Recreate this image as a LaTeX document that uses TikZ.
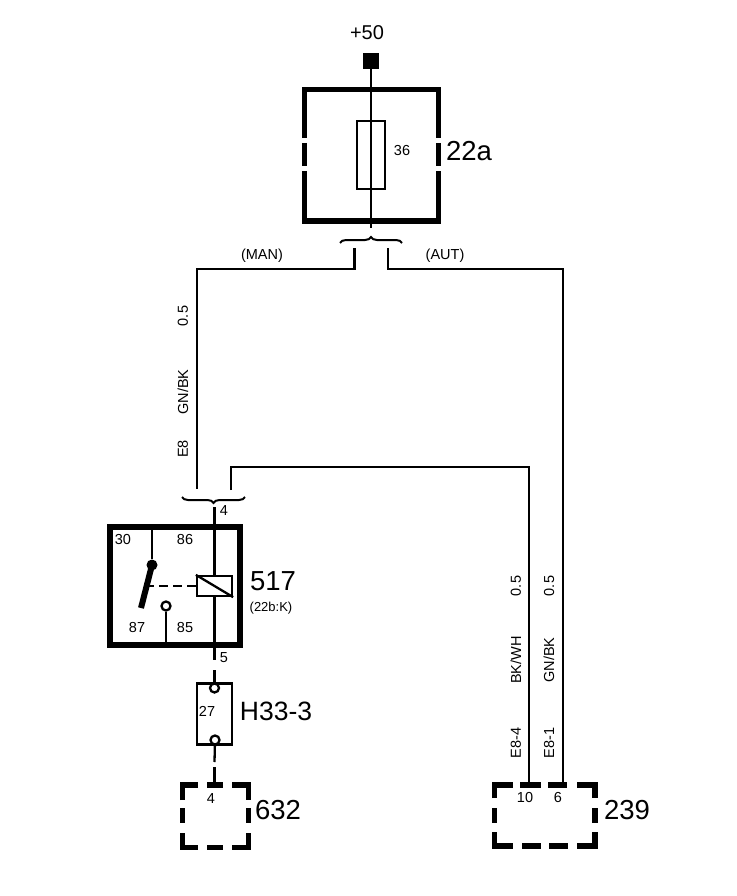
\documentclass[tikz,border=0pt]{standalone}
\usepackage{fontspec}
\setmainfont{Liberation Sans}
\usepackage{tikz}
\usetikzlibrary{shapes.geometric, decorations.pathreplacing}
\tikzstyle{wire} = [line width=2.3pt]
\tikzstyle{frame} = [line width=5.5pt]
\tikzstyle{outline} = [rectangle, draw=black, line width=2.3pt, inner sep=0pt]
\tikzstyle{pin} = [circle, draw=black, fill=white, line width=2.3pt, minimum size=9pt, inner sep=0pt]
\tikzstyle{clamp} = [line width=2pt, decorate, decoration={brace, amplitude=6pt}]
\tikzstyle{small} = [inner sep=0pt, font=\fontsize{14.5}{14.5}\selectfont]
\tikzstyle{side} = [small, rotate=90]
\tikzstyle{big} = [inner sep=0pt, font=\fontsize{27.5}{27.5}\selectfont]

\begin{document}
\begin{tikzpicture}[x=1pt, y=-1pt]
        \useasboundingbox (0,0) rectangle (736,896);
        % fuse box
        \node (plus) [inner sep=0pt, font=\fontsize{20}{20}\selectfont] at (367,33) {+50};
        \node (feed) [rectangle, fill=black, minimum size=15.5pt, inner sep=0pt] at (371,61) {};
        \node (fuse) [outline, minimum width=28pt, minimum height=68pt] at (371,155) {};
        \coordinate (feedend) at (371,228);
        \node (fusenum) [small] at (402,151) {36};
        \node (fusename) [big] at (469,151) {22a};
        \draw [frame] (304.5,138) -- (304.5,89.5) -- (438.5,89.5) -- (438.5,138);
        \draw [frame] (304.5,143) -- (304.5,166);
        \draw [frame] (438.5,143) -- (438.5,166);
        \draw [frame] (304.5,171) -- (304.5,221) -- (438.5,221) -- (438.5,171);
        \draw [wire] (feed) -- (feedend);
        % split under the fuse
        \coordinate (clampa) at (340,243);
        \coordinate (clampb) at (402,243);
        \draw [clamp] (clampa) -- (clampb);
        \coordinate (manstart) at (354.5,248);
        \coordinate (manturn) at (354.5,269);
        \coordinate (mancorner) at (197,269);
        \coordinate (manend) at (197,489);
        \coordinate (autstart) at (388,248);
        \coordinate (autturn) at (388,269);
        \coordinate (autcorner) at (563,269);
        \coordinate (autend) at (563,783);
        \draw [wire] (manstart) -- (manturn) -- (mancorner) -- (manend);
        \draw [wire] (autstart) -- (autturn) -- (autcorner) -- (autend);
        \node (manname) [small] at (262,256) {(MAN)};
        \node (autname) [small] at (445,256) {(AUT)};
        \node (mansize) [side] at (183,316) {0.5};
        \node (mancol) [side] at (183,392) {GN/BK};
        \node (manplug) [side] at (183,449) {E8};
        % wire from control unit
        \coordinate (bkstart) at (231,490);
        \coordinate (bkturn) at (231,467);
        \coordinate (bkcorner) at (529,467);
        \coordinate (bkend) at (529,783);
        \draw [wire] (bkstart) -- (bkturn) -- (bkcorner) -- (bkend);
        \coordinate (clampc) at (182,497);
        \coordinate (clampd) at (245,497);
        \draw [clamp] (clampd) -- (clampc);
        \node (bksize) [side] at (516,586) {0.5};
        \node (bkcol) [side] at (516,660) {BK/WH};
        \node (bkplug) [side] at (516,743) {E8-4};
        \node (autsize) [side] at (549,586) {0.5};
        \node (autcol) [side] at (549,660) {GN/BK};
        \node (autplug) [side] at (549,743) {E8-1};
        % relay
        \node (relay) [rectangle, draw=black, line width=5.5pt, minimum width=130pt, minimum height=118pt, inner sep=0pt] at (175,586) {};
        \node (coil) [outline, minimum width=35pt, minimum height=20pt] at (214.5,586) {};
        \node (pivot) [circle, fill=black, minimum size=11pt, inner sep=0pt] at (152,565) {};
        \node (contact) [pin] at (166,606) {};
        \coordinate (armend) at (141,608);
        \coordinate (relayin) at (214.5,507);
        \coordinate (relayout) at (214.5,660);
        \coordinate (coiltop) at (152,527);
        \coordinate (contactfoot) at (166,645);
        \coordinate (armmid) at (148,586);
        \draw [wire] (relayin) -- (coil);
        \draw [wire] (coil) -- (relayout);
        \draw [wire] (coil.north west) -- (coil.south east);
        \draw [wire] (coiltop) -- (pivot);
        \draw [wire] (contact) -- (contactfoot);
        \draw [line width=6pt] (pivot.center) -- (armend);
        \draw [wire, dash pattern=on 9pt off 5pt] (coil.west) -- (armmid);
        \node (pin30) [small] at (123,540) {30};
        \node (pin86) [small] at (185,540) {86};
        \node (pin87) [small] at (137,628) {87};
        \node (pin85) [small] at (185,628) {85};
        \node (innum) [small] at (224,511) {4};
        \node (outnum) [small] at (224,658) {5};
        \node (relayname) [big] at (273,581) {517};
        \node (relaypos) [inner sep=0pt, font=\fontsize{13}{13}\selectfont] at (271,608) {(22b:K)};
        % connector H33-3
        \node (plug) [outline, minimum width=35pt, minimum height=61pt] at (214.5,714) {};
        \node (plugtop) [pin] at (214.5,688) {};
        \node (plugbot) [pin] at (215,740) {};
        \coordinate (plugin) at (214.5,670);
        \coordinate (plugout) at (214.5,762);
        \coordinate (boxin) at (214.5,767);
        \coordinate (boxtop) at (214.5,785);
        \draw [wire] (plugin) -- (plugtop);
        \draw [wire] (plugbot) -- (plugout);
        \draw [wire] (boxin) -- (boxtop);
        \node (plugnum) [small] at (207,711) {27};
        \node (plugname) [big, font=\fontsize{26.5}{26.5}\selectfont] at (276,711) {H33-3};
        % unit 632
        \draw [frame] (182.5,800) -- (182.5,785) -- (198,785);
        \draw [frame] (207,785) -- (223,785);
        \draw [frame] (232,785) -- (248.5,785) -- (248.5,800);
        \draw [frame] (182.5,808) -- (182.5,823);
        \draw [frame] (248.5,808) -- (248.5,823);
        \draw [frame] (182.5,833) -- (182.5,847.5) -- (198,847.5);
        \draw [frame] (207,847.5) -- (223,847.5);
        \draw [frame] (232,847.5) -- (248.5,847.5) -- (248.5,833);
        \node (boxnum) [small] at (211,799) {4};
        \node (boxname) [big] at (278,810) {632};
        % unit 239
        \draw [frame] (494.5,798) -- (494.5,785) -- (513,785);
        \draw [frame] (520,785) -- (541,785);
        \draw [frame] (548,785) -- (567,785);
        \draw [frame] (577,785) -- (595,785) -- (595,798);
        \draw [frame] (494.5,808) -- (494.5,823);
        \draw [frame] (595,808) -- (595,823);
        \draw [frame] (494.5,832) -- (494.5,846) -- (513,846);
        \draw [frame] (522,846) -- (541,846);
        \draw [frame] (549,846) -- (568,846);
        \draw [frame] (577,846) -- (595,846) -- (595,832);
        \node (ecunuma) [small] at (525,797) {10};
        \node (ecunumb) [small] at (558,797) {6};
        \node (ecuname) [big] at (627,810) {239};
    \end{tikzpicture}
\end{document}
